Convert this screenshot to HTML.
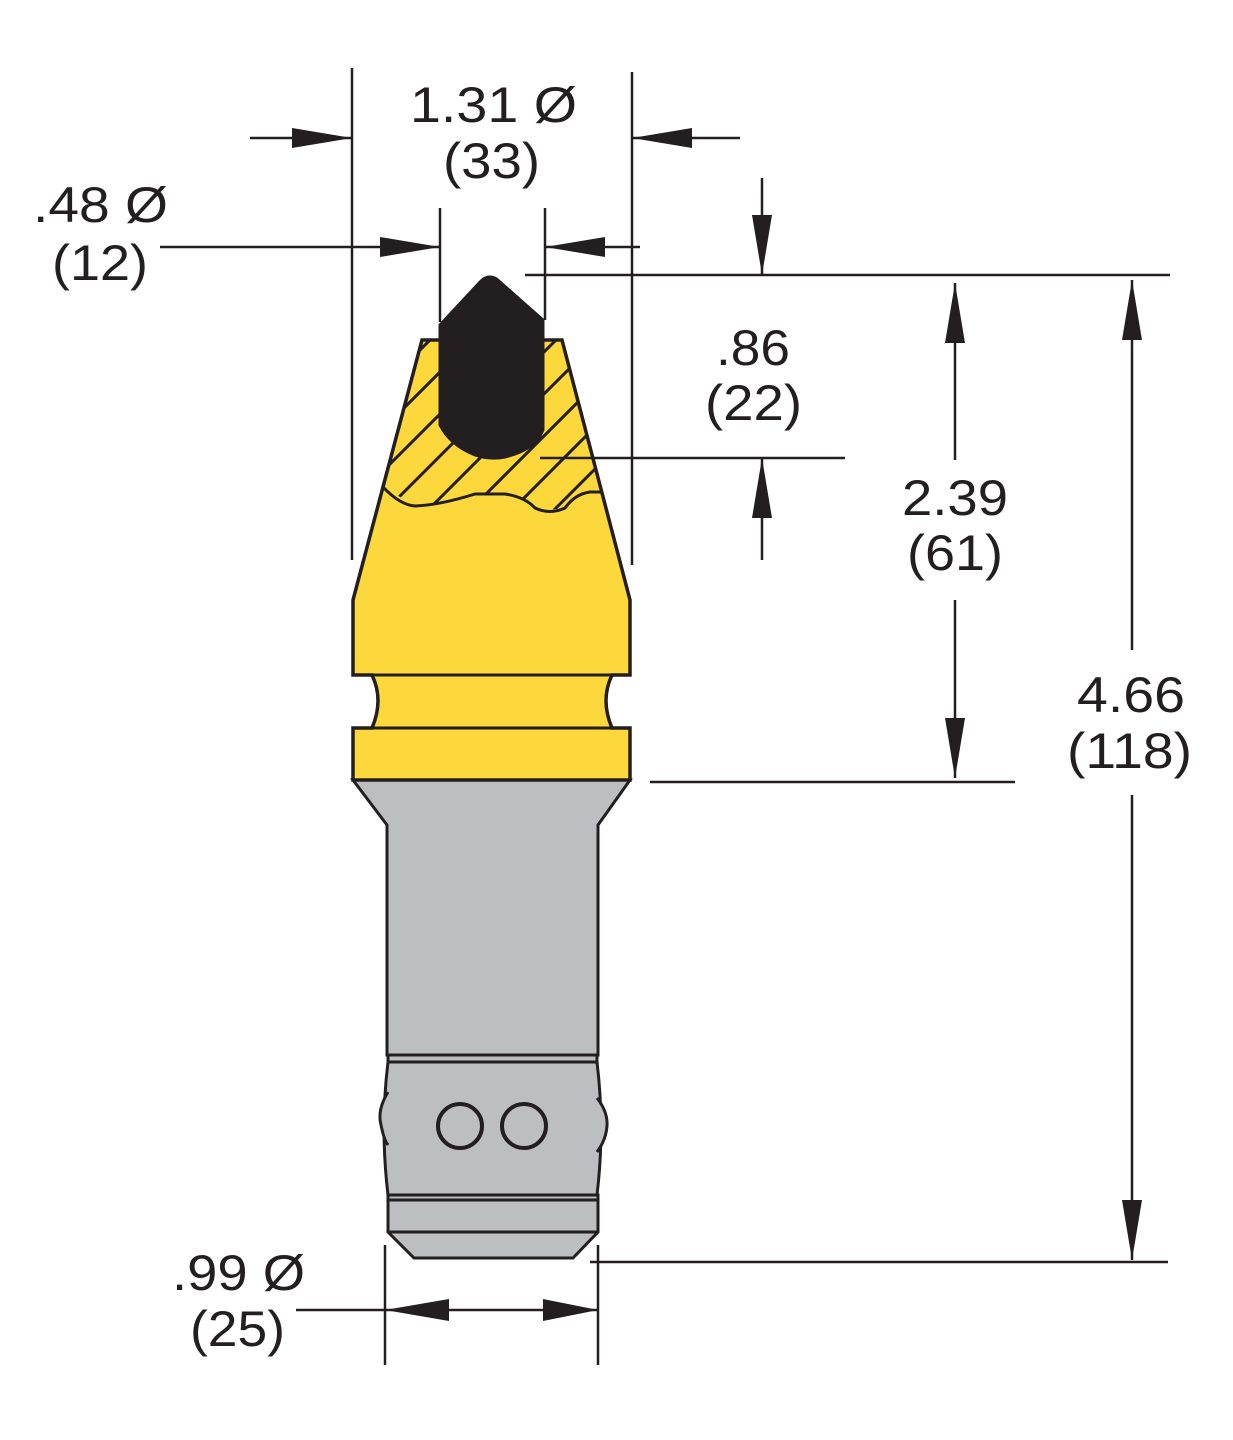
<!DOCTYPE html>
<html><head><meta charset="utf-8"><style>
html,body{margin:0;padding:0;background:#fff;}
svg{display:block;}
text{font-family:"Liberation Sans",sans-serif;font-size:50px;fill:#231f20;}
</style></head><body>
<svg width="1233" height="1440" viewBox="0 0 1233 1440" xmlns="http://www.w3.org/2000/svg">
<defs>
<clipPath id="hc"><path d="M422,340 L562,340 L603,492 L598,490 L580,495 L570,508 L545,510 L528,500 L505,494 L475,494 L445,503 L415,506 L395,494 L383,487 Z"/></clipPath>
</defs>
<g stroke="#231f20" stroke-width="3" fill="none">
<path d="M353,780 L630,780 L598,825 L598,1055 L387,1055 L387,825 Z" fill="#bcbec0"/>
<path d="M388,1062 L597,1062 Q605,1128 597,1195 L388,1195 Q380,1128 388,1062 Z" fill="#bcbec0"/>
<path d="M388,1092 Q377,1110 381,1125 Q384,1140 388,1145" fill="#bcbec0"/>
<path d="M597,1098 Q608,1112 607,1126 Q606,1140 597,1152" fill="#bcbec0"/>
<rect x="388" y="1055" width="209" height="7" fill="#bcbec0"/>
<rect x="388" y="1195" width="210" height="5" fill="#bcbec0"/>
<path d="M388,1200 L598,1200 L598,1232 L573,1258 L414,1258 L388,1232 Z" fill="#bcbec0"/>
<line x1="388" y1="1232" x2="598" y2="1232"/>
<circle cx="460" cy="1126" r="22" stroke-width="4"/>
<circle cx="524" cy="1126" r="22" stroke-width="4"/>
<path d="M422,340 L562,340 L630,600 L630,675 L612,675 Q600,700 612,728 L630,728 L630,780 L353,780 L353,728 L372,728 Q384,700 372,675 L353,675 L353,600 Z" fill="#fcd83c" stroke-width="3.5"/>
<line x1="353" y1="675" x2="630" y2="675"/>
<line x1="353" y1="728" x2="630" y2="728"/>
<path d="M440,325 L480,282 Q490,272 500,282 L543,320 L543,430 Q535,450 505,457 Q490,460 475,455 Q450,445 440,425 Z" fill="#231f20"/>
<path d="M383,487 Q400,505 415,506 Q440,505 475,494 L505,494 Q525,497 535,508 Q550,515 565,508 Q575,494 590,492 L603,492" stroke-width="3"/>
<g clip-path="url(#hc)" stroke-width="3">
<line x1="170" y1="600" x2="520" y2="250"/>
<line x1="212" y1="600" x2="562" y2="250"/>
<line x1="254" y1="600" x2="604" y2="250"/>
<line x1="296" y1="600" x2="646" y2="250"/>
<line x1="338" y1="600" x2="688" y2="250"/>
<line x1="380" y1="600" x2="730" y2="250"/>
<line x1="422" y1="600" x2="772" y2="250"/>
<line x1="464" y1="600" x2="814" y2="250"/>
<line x1="506" y1="600" x2="856" y2="250"/>
</g>
</g>
<g stroke="#231f20" stroke-width="2.5" fill="none">
<line x1="352" y1="68" x2="352" y2="560"/>
<line x1="632" y1="72" x2="632" y2="565"/>
<line x1="250" y1="138" x2="352" y2="138"/>
<line x1="632" y1="138" x2="740" y2="138"/>
<line x1="440" y1="208" x2="440" y2="322"/>
<line x1="545" y1="208" x2="545" y2="320"/>
<line x1="160" y1="247" x2="440" y2="247"/>
<line x1="545" y1="247" x2="640" y2="247"/>
<line x1="525" y1="275" x2="1170" y2="275"/>
<line x1="762" y1="178" x2="762" y2="275"/>
<line x1="540" y1="458" x2="845" y2="458"/>
<line x1="762" y1="458" x2="762" y2="560"/>
<line x1="955" y1="283" x2="955" y2="460"/>
<line x1="955" y1="600" x2="955" y2="778"/>
<line x1="650" y1="782" x2="1015" y2="782"/>
<line x1="1132" y1="280" x2="1132" y2="650"/>
<line x1="1132" y1="795" x2="1132" y2="1260"/>
<line x1="590" y1="1262" x2="1168" y2="1262"/>
<line x1="385" y1="1245" x2="385" y2="1365"/>
<line x1="598" y1="1245" x2="598" y2="1365"/>
<line x1="296" y1="1310" x2="598" y2="1310"/>
</g>
<g fill="#231f20">
<path d="M352,138 L292,128 L292,148 Z"/>
<path d="M632,138 L692,128 L692,148 Z"/>
<path d="M440,247 L380,237 L380,257 Z"/>
<path d="M545,247 L605,237 L605,257 Z"/>
<path d="M762,275 L752,215 L772,215 Z"/>
<path d="M762,458 L752,518 L772,518 Z"/>
<path d="M955,283 L945,343 L965,343 Z"/>
<path d="M955,778 L945,718 L965,718 Z"/>
<path d="M1132,280 L1122,340 L1142,340 Z"/>
<path d="M1132,1260 L1122,1200 L1142,1200 Z"/>
<path d="M385,1310 L449,1299 L449,1321 Z"/>
<path d="M598,1310 L543,1299 L543,1321 Z"/>
</g>
<text x="410" y="122" textLength="167" lengthAdjust="spacingAndGlyphs">1.31 Ø</text>
<text x="443" y="178" textLength="97" lengthAdjust="spacingAndGlyphs">(33)</text>
<text x="33" y="222" textLength="135" lengthAdjust="spacingAndGlyphs">.48 Ø</text>
<text x="52" y="280" textLength="96" lengthAdjust="spacingAndGlyphs">(12)</text>
<text x="716" y="365" textLength="74" lengthAdjust="spacingAndGlyphs">.86</text>
<text x="705" y="420" textLength="97" lengthAdjust="spacingAndGlyphs">(22)</text>
<text x="902" y="515" textLength="106" lengthAdjust="spacingAndGlyphs">2.39</text>
<text x="907" y="570" textLength="96" lengthAdjust="spacingAndGlyphs">(61)</text>
<text x="1077" y="712" textLength="108" lengthAdjust="spacingAndGlyphs">4.66</text>
<text x="1067" y="768" textLength="125" lengthAdjust="spacingAndGlyphs">(118)</text>
<text x="172" y="1290" textLength="133" lengthAdjust="spacingAndGlyphs">.99 Ø</text>
<text x="190" y="1346" textLength="95" lengthAdjust="spacingAndGlyphs">(25)</text>
</svg>
</body></html>
